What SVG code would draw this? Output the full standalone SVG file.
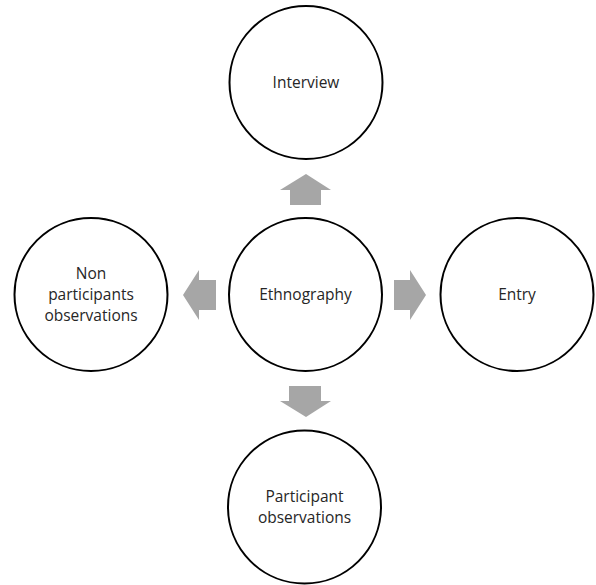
<svg xmlns="http://www.w3.org/2000/svg" width="596" height="585" viewBox="0 0 596 585">
<style>
.c{fill:#fff;stroke:#000;stroke-width:2}
.t{font-family:"Open Sans","Liberation Sans",sans-serif;font-size:15.5px;fill:#262626;text-anchor:middle}
.a{fill:#a6a6a6}
</style>
<rect width="596" height="585" fill="#fff"/>
<g id="connectors">
<polygon class="a" points="306,174 331,190 321,190 321,205 290,205 290,190 280,190"/>
<polygon class="a" points="306,417 331,401 321,401 321,386 289,386 289,401 280,401"/>
<polygon class="a" points="183,295 199,270 199,280 216,280 216,310 199,310 199,320"/>
<polygon class="a" points="426,295 410,270 410,280 394,280 394,310 410,310 410,320"/>
</g>
<g id="interview"><circle class="c" cx="306" cy="82.5" r="76.5"/><text class="t" x="306" y="88">Interview</text></g>
<g id="ethnography"><circle class="c" cx="305.5" cy="294.5" r="76.5"/><text class="t" x="305.5" y="300">Ethnography</text></g>
<g id="non-participants"><circle class="c" cx="91" cy="294.5" r="76.5"/><text class="t" x="91" y="279">Non</text><text class="t" x="91" y="300">participants</text><text class="t" x="91" y="321">observations</text></g>
<g id="entry"><circle class="c" cx="517" cy="294.5" r="76.5"/><text class="t" x="517" y="300">Entry</text></g>
<g id="participant"><circle class="c" cx="304.5" cy="507" r="76.5"/><text class="t" x="304.5" y="502">Participant</text><text class="t" x="304.5" y="523">observations</text></g>
</svg>
